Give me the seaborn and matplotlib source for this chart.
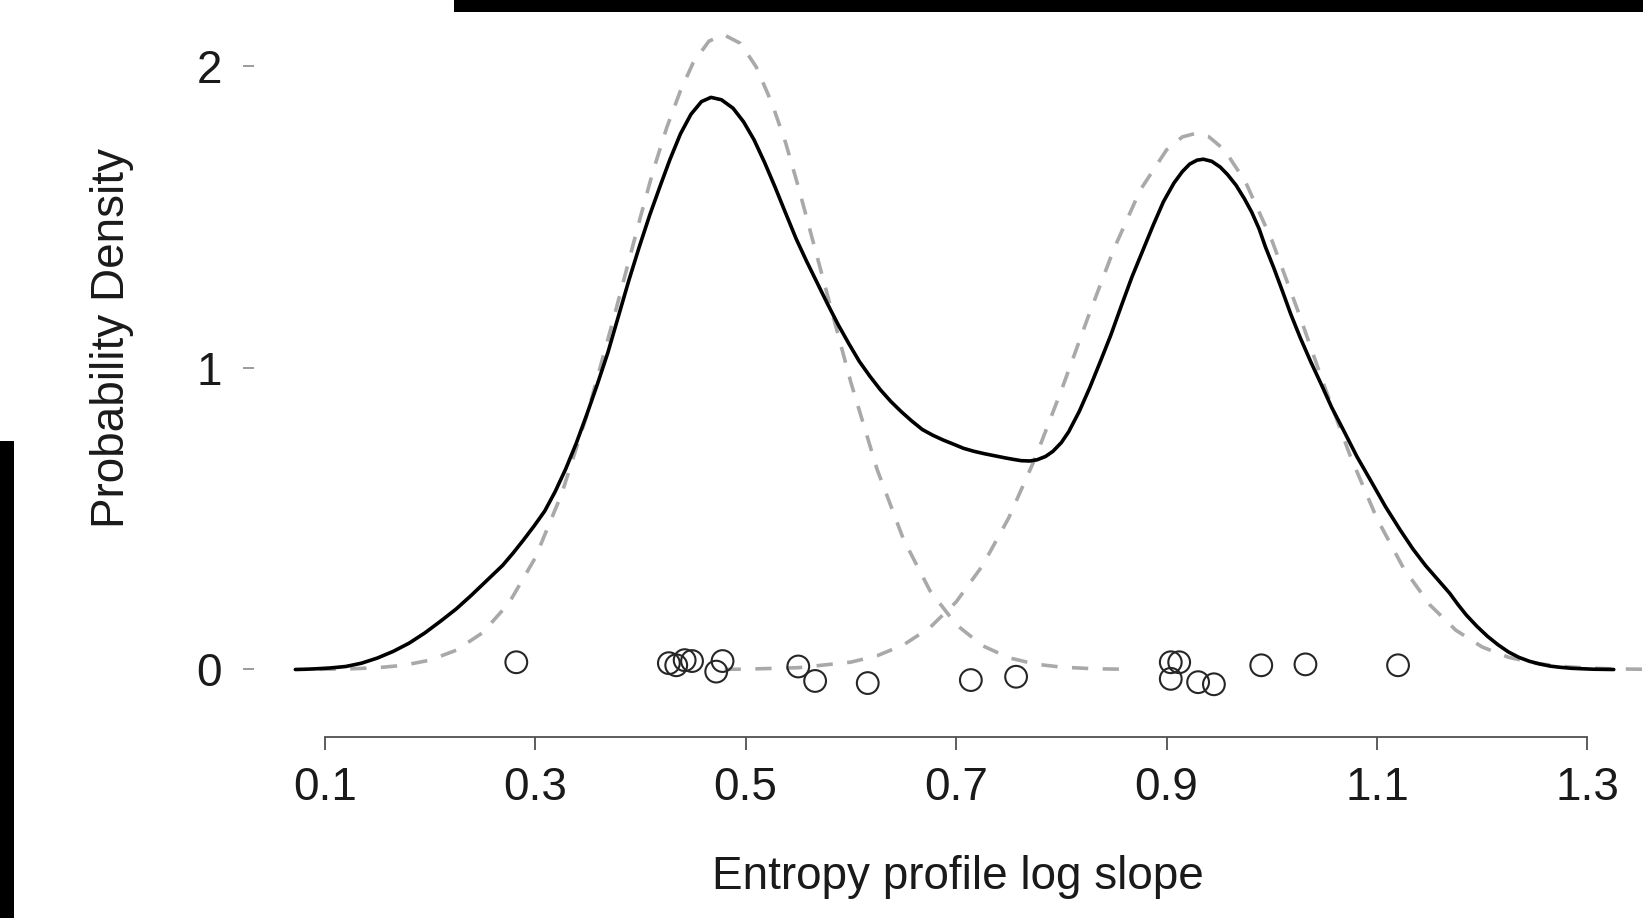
import matplotlib
matplotlib.use("Agg")
import matplotlib.pyplot as plt
from matplotlib.patches import Rectangle
import seaborn as sns

# ---- data ----
# kernel density (solid black)
dens_x = [0.072, 0.081, 0.090, 0.105, 0.120, 0.135, 0.150, 0.165, 0.180, 0.195,
          0.210, 0.225, 0.239, 0.254, 0.269, 0.279, 0.289, 0.299, 0.309, 0.319,
          0.329, 0.339, 0.349, 0.359, 0.369, 0.379, 0.389, 0.399, 0.409, 0.419,
          0.428, 0.438, 0.448, 0.458, 0.467, 0.477, 0.488, 0.498, 0.508, 0.518,
          0.528, 0.538, 0.548, 0.558, 0.568, 0.578, 0.588, 0.598, 0.608, 0.618,
          0.628, 0.638, 0.648, 0.658, 0.668, 0.678, 0.688, 0.698, 0.707, 0.717,
          0.727, 0.737, 0.747, 0.755, 0.762, 0.770, 0.777, 0.785, 0.792, 0.800,
          0.807, 0.817, 0.827, 0.837, 0.847, 0.857, 0.867, 0.877, 0.887, 0.897,
          0.907, 0.915, 0.922, 0.929, 0.935, 0.943, 0.951, 0.958, 0.966, 0.974,
          0.981, 0.988, 0.994, 1.002, 1.010, 1.018, 1.027, 1.037, 1.047, 1.057,
          1.068, 1.081, 1.095, 1.108, 1.122, 1.134, 1.146, 1.158, 1.169, 1.177,
          1.185, 1.195, 1.205, 1.215, 1.225, 1.235, 1.245, 1.255, 1.265, 1.275,
          1.285, 1.305, 1.325]
dens_y = [0.000, 0.0008, 0.002, 0.005, 0.010, 0.021, 0.038, 0.060, 0.087, 0.121,
          0.160, 0.201, 0.245, 0.295, 0.345, 0.386, 0.430, 0.476, 0.525, 0.590,
          0.665, 0.750, 0.845, 0.945, 1.050, 1.170, 1.290, 1.402, 1.508, 1.605,
          1.690, 1.775, 1.840, 1.882, 1.896, 1.888, 1.860, 1.815, 1.755, 1.680,
          1.598, 1.512, 1.427, 1.352, 1.281, 1.210, 1.142, 1.080, 1.021, 0.972,
          0.927, 0.888, 0.854, 0.823, 0.795, 0.776, 0.760, 0.746, 0.733, 0.723,
          0.715, 0.708, 0.701, 0.696, 0.692, 0.691, 0.695, 0.706, 0.723, 0.752,
          0.788, 0.855, 0.934, 1.020, 1.108, 1.205, 1.300, 1.385, 1.470, 1.550,
          1.612, 1.650, 1.675, 1.688, 1.691, 1.684, 1.665, 1.640, 1.605, 1.560,
          1.515, 1.460, 1.400, 1.330, 1.255, 1.178, 1.100, 1.020, 0.945, 0.868,
          0.794, 0.705, 0.620, 0.540, 0.4625, 0.400, 0.345, 0.297, 0.253, 0.215,
          0.180, 0.143, 0.110, 0.082, 0.058, 0.040, 0.027, 0.018, 0.011, 0.007,
          0.004, 0.001, 0.000]

# mixture component 1 (grey dashed, left)
comp1_x = [0.095, 0.125, 0.150, 0.175, 0.200, 0.225, 0.250, 0.275, 0.300, 0.325,
           0.350, 0.375, 0.400, 0.412, 0.425, 0.438, 0.450, 0.465, 0.479, 0.495,
           0.510, 0.525, 0.538, 0.550, 0.575, 0.600, 0.625, 0.650, 0.675, 0.700,
           0.725, 0.750, 0.775, 0.800, 0.830, 0.863]
comp1_y = [0.0007, 0.0023, 0.0059, 0.014, 0.031, 0.064, 0.122, 0.220, 0.370, 0.581,
           0.853, 1.170, 1.500, 1.652, 1.796, 1.918, 2.010, 2.082, 2.104, 2.075,
           1.997, 1.876, 1.745, 1.600, 1.276, 0.951, 0.662, 0.431, 0.262, 0.149,
           0.079, 0.039, 0.018, 0.0079, 0.0026, 0.0007]

# mixture component 2 (grey dashed, right)
comp2_x = [0.480, 0.500, 0.550, 0.600, 0.625, 0.650, 0.675, 0.700, 0.725, 0.750,
           0.775, 0.800, 0.825, 0.850, 0.875, 0.900, 0.915, 0.928, 0.940, 0.955,
           0.975, 1.000, 1.025, 1.050, 1.075, 1.100, 1.125, 1.150, 1.175, 1.200,
           1.225, 1.250, 1.275, 1.300, 1.325, 1.350, 1.376]
comp2_y = [0.0006, 0.0012, 0.006, 0.0244, 0.0457, 0.0816, 0.1386, 0.2237, 0.3439, 0.5025,
           0.699, 0.925, 1.164, 1.394, 1.589, 1.722, 1.765, 1.777, 1.766, 1.722,
           1.616, 1.423, 1.187, 0.939, 0.704, 0.500, 0.337, 0.215, 0.130, 0.0745,
           0.0405, 0.0209, 0.0102, 0.0047, 0.0021, 0.0009, 0.0003]

# observations (jittered vertically)
obs_x = [0.282, 0.427, 0.434, 0.442, 0.449, 0.478, 0.472, 0.550, 0.566, 0.616,
         0.714, 0.757, 0.904, 0.912, 0.904, 0.930, 0.945, 0.990, 1.032, 1.120]
obs_y = [0.024, 0.021, 0.014, 0.031, 0.028, 0.028, -0.007, 0.010, -0.038, -0.045,
         -0.035, -0.024, 0.024, 0.024, -0.031, -0.042, -0.049, 0.014, 0.017, 0.014]

x_ticks = [0.1, 0.3, 0.5, 0.7, 0.9, 1.1, 1.3]
x_tick_labels = ["0.1", "0.3", "0.5", "0.7", "0.9", "1.1", "1.3"]
y_ticks = [0, 1, 2]
y_tick_labels = ["0", "1", "2"]

# ---- style ----
sns.set_style("white")
plt.rcParams["font.family"] = ["Liberation Sans", "DejaVu Sans"]
FS = 33

W, H = 1643, 918
fig = plt.figure(figsize=(W / 100, H / 100), dpi=100)
fig.patch.set_facecolor("white")

left_px, right_px, top_px, bottom_px = 254, 1643, 20, 737
ax = fig.add_axes([left_px / W, 1 - bottom_px / H,
                   (right_px - left_px) / W, (bottom_px - top_px) / H])
ax.set_facecolor("white")

grey = "#a9a9a9"
sns.lineplot(x=comp1_x, y=comp1_y, ax=ax, color=grey, linewidth=2.6,
             estimator=None, sort=False)
sns.lineplot(x=comp2_x, y=comp2_y, ax=ax, color=grey, linewidth=2.6,
             estimator=None, sort=False)
for ln in ax.get_lines():
    ln.set_dashes((4.5, 4.0))

sns.lineplot(x=dens_x, y=dens_y, ax=ax, color="black", linewidth=2.6,
             estimator=None, sort=False)

sns.scatterplot(x=obs_x, y=obs_y, ax=ax, marker="o", s=245, zorder=5)
pts = ax.collections[-1]
pts.set_facecolor("none")
pts.set_edgecolor("#262626")
pts.set_linewidth(1.5)

ax.set_xlim(0.03271, 1.35280)
ax.set_ylim(-0.2237, 2.1524)

for s in ["top", "right", "left"]:
    ax.spines[s].set_visible(False)
ax.spines["bottom"].set_bounds(0.1, 1.3)
ax.spines["bottom"].set_color("#505050")
ax.spines["bottom"].set_linewidth(1.3)

ax.set_xticks(x_ticks)
ax.set_xticklabels(x_tick_labels)
ax.set_yticks(y_ticks)
ax.set_yticklabels(y_tick_labels)
ax.tick_params(axis="x", direction="out", length=9, width=1.3, color="#505050",
               pad=12, labelsize=FS, labelcolor="#1a1a1a", bottom=True)
ax.tick_params(axis="y", direction="out", length=8, width=1.1, color="#808080",
               pad=15, labelsize=FS, labelcolor="#1a1a1a", left=True)

ax.set_xlabel("Entropy profile log slope", fontsize=FS, color="#1a1a1a")
ax.set_ylabel("Probability Density", fontsize=FS, color="#1a1a1a")
ax.xaxis.set_label_coords((957.7 - left_px) / (right_px - left_px),
                          (bottom_px - 855) / (bottom_px - top_px))
ax.yaxis.set_label_coords((134 - left_px) / (right_px - left_px),
                          (bottom_px - 338) / (bottom_px - top_px))

# black crop borders seen in the reference image
fig.add_artist(Rectangle((453.7 / W, 1 - 11.5 / H), (W - 453.7) / W, 11.5 / H,
                         transform=fig.transFigure, color="black", lw=0))
fig.add_artist(Rectangle((0, 0), 13.6 / W, (H - 440.5) / H,
                         transform=fig.transFigure, color="black", lw=0))

fig.savefig("out.png", dpi=100)
